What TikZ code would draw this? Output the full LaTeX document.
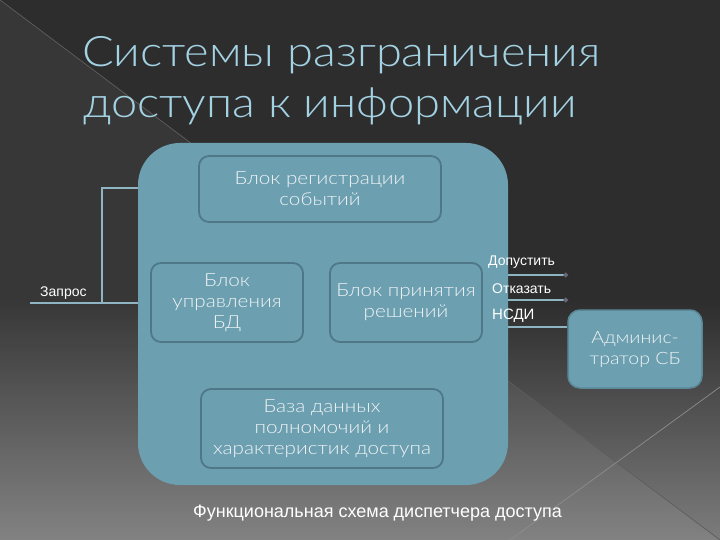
\documentclass[tikz,border=0pt]{standalone}
\usepackage{fontspec}
\setmainfont{Liberation Sans}
\newfontfamily\gothic[FakeStretch=1.15]{Lato Light}
\newfontfamily\gothictitle[FakeStretch=1.12]{Lato Light}
\usetikzlibrary{arrows.meta}
\definecolor{bgdark}{HTML}{2E2D2D}
\definecolor{bgbottom}{HTML}{7C7C7C}
\definecolor{panel}{HTML}{6C9FB0}
\definecolor{boxline}{HTML}{4E7888}
\definecolor{wirec}{HTML}{8FB4C2}
\definecolor{titleblue}{HTML}{A3D2E3}
\definecolor{txt}{HTML}{EEF3F5}
\definecolor{dotc}{HTML}{6A6478}
\definecolor{deco}{HTML}{5E5C5C}
\begin{document}
\begin{tikzpicture}[x=1pt,y=-1pt,
  blk/.style={draw=boxline, line width=1.8pt, fill=panel, rounded corners=10pt,
    inner sep=0pt, align=center, text=txt,
    font=\gothic\fontsize{18}{21}\selectfont},
  wire/.style={draw=wirec, line width=1.6pt},
  lbl/.style={text=white, font=\fontsize{14}{16}\selectfont, inner sep=0pt, anchor=base west},
  ttl/.style={font=\gothictitle\fontsize{42}{50}\selectfont, inner sep=0pt, anchor=base west},
]
\useasboundingbox (0,0) rectangle (720,540);
% background
\fill[bgdark] (0,0) rectangle (720,540);
\shade[top color=bgdark, bottom color=bgbottom] (0,300) rectangle (720,540);
\fill[white, opacity=0.05] (0,0) -- (720,540) -- (0,540) -- cycle;
\draw[deco, line width=0.7pt] (0,0) -- (720,540);
\draw[deco!70!white, line width=0.7pt] (510,540) -- (720,387);
% title
\node[ttl, text=titleblue] (t1) at (82,67) {Системы разграничения};
\node[ttl, text=titleblue] (t2) at (83,118) {доступа к информации};
% container
\node[fill=panel, rounded corners=42pt, minimum width=370pt, minimum height=342pt, inner sep=0pt] (panel) at (323,314) {};
% inner blocks
\node[blk, minimum width=242pt, minimum height=66pt] (reg) at (320,189) {Блок регистрации\\событий};
\node[blk, minimum width=152pt, minimum height=79pt] (bd) at (227,302.5) {Блок\\управления\\БД};
\node[blk, minimum width=152pt, minimum height=79pt] (dec) at (406,302.5) {Блок принятия\\решений};
\node[blk, minimum width=242pt, minimum height=79pt] (db) at (322,428.5) {База данных\\полномочий и\\характеристик доступа};
% administrator
\node[blk, draw=boxline!60!panel, line width=1.5pt, rounded corners=12pt, minimum width=134pt, minimum height=78pt,
  font=\gothic\fontsize{17}{21}\selectfont] (admin) at (635,349) {Админис-\\тратор СБ};
% left connectors
\coordinate (req) at (30,303);
\coordinate (split) at (102,303);
\coordinate (r1) at (0,188);
\draw[wire] (req) -- (req -| panel.west);
\draw[wire] (split) |- (panel.west |- r1);
\node[lbl] (zap) at (40,296) {Запрос};
% right connectors
\coordinate (d1) at (568,275);
\coordinate (d2) at (568,300);
\coordinate (d3) at (0,327);
\draw[wire, -{Circle[length=4.5pt, color=dotc]}] (panel.east |- d1) -- (d1);
\draw[wire, -{Circle[length=4.5pt, color=dotc]}] (panel.east |- d2) -- (d2);
\draw[wire] (panel.east |- d3) -- (admin.west |- d3);
\node[lbl] (l1) at (488,265) {Допустить};
\node[lbl] (l2) at (492,293) {Отказать};
\node[lbl, font=\fontsize{15}{17}\selectfont] (l3) at (492,319) {НСДИ};
% caption
\node[text=white, font=\fontsize{18}{20}\selectfont, inner sep=0pt, anchor=base] (cap) at (377.5,517) {Функциональная схема диспетчера доступа};
\end{tikzpicture}
\end{document}
